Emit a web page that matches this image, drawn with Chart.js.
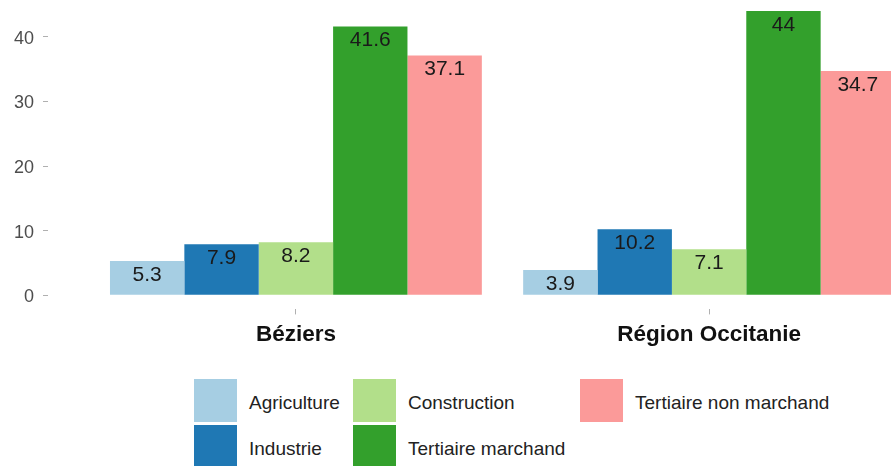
<!DOCTYPE html>
<html>
<head>
<meta charset="utf-8">
<script src="https://cdn.jsdelivr.net/npm/chart.js@4"></script>
<style>
  html, body { margin: 0; padding: 0; background: #fff; overflow: hidden; width: 891px; height: 466px; }
  #wrap { position: absolute; left: 0; top: 0; }
  #legend {
    position: absolute; left: 194px; top: 379px;
    display: grid; grid-auto-flow: column;
    grid-template-rows: 43px 43px; row-gap: 3px;
    grid-template-columns: 159px 227px auto;
    font-family: "Liberation Sans", Arial, sans-serif; font-size: 19px; color: #222;
  }
  .item { display: flex; align-items: center; }
  .box { width: 43px; height: 43px; flex: none; }
  .lbl { margin-left: 12px; padding-top: 5px; white-space: nowrap; }
</style>
</head>
<body>
<div id="wrap"><canvas id="c" width="957" height="360"></canvas></div>
<div id="legend"></div>
<script>
const categories = ["Béziers", "Région Occitanie"];
const series = ["Agriculture", "Industrie", "Construction", "Tertiaire marchand", "Tertiaire non marchand"];
const agriculture = [5.3, 3.9];
const industrie = [7.9, 10.2];
const construction = [8.2, 7.1];
const tertiaireMarchand = [41.6, 44];
const tertiaireNonMarchand = [37.1, 34.7];
const yTicks = [0, 10, 20, 30, 40];
const colors = ["#A6CEE3", "#1F78B4", "#B2DF8A", "#33A02C", "#FB9A99"];

const values = [agriculture, industrie, construction, tertiaireMarchand, tertiaireNonMarchand];
const font = '"Liberation Sans", Arial, sans-serif';

// labels inside the top of each bar
const barLabels = {
  id: "barLabels",
  afterDatasetsDraw(chart) {
    const ctx = chart.ctx;
    ctx.save();
    ctx.font = "21px " + font;
    ctx.fillStyle = "#1a1a1a";
    ctx.textAlign = "center";
    ctx.textBaseline = "middle";
    chart.data.datasets.forEach((ds, i) => {
      chart.getDatasetMeta(i).data.forEach((bar, j) => {
        ctx.fillText(String(ds.data[j].y), bar.x, bar.y + 14);
      });
    });
    ctx.restore();
  }
};

new Chart(document.getElementById("c"), {
  type: "bar",
  data: {
    datasets: series.map((name, i) => ({
      label: name,
      data: values[i].map((v, j) => ({ x: j + 1, y: v })),
      backgroundColor: colors[i],
      borderWidth: 0,
      categoryPercentage: 0.9,
      barPercentage: 1
    }))
  },
  options: {
    responsive: false,
    animation: false,
    layout: { padding: 0 },
    plugins: { legend: { display: false }, tooltip: { enabled: false } },
    scales: {
      x: {
        type: "linear",
        offset: false,
        min: 0.4,
        max: 2.6,
        afterBuildTicks: s => { s.ticks = categories.map((c, i) => ({ value: i + 1 })); },
        afterFit: s => { s.height = 50.6; s.paddingLeft = 0; s.paddingRight = 0; },
        ticks: {
          callback: v => categories[v - 1],
          font: { family: font, size: 22.5, weight: "bold" },
          color: "#111",
          padding: 7,
          maxRotation: 0
        },
        grid: { offset: false, drawOnChartArea: false, drawTicks: true, tickLength: 5, color: "#b0b0b0" },
        border: { display: false }
      },
      y: {
        min: -2.2,
        max: 45.7,
        afterBuildTicks: s => { s.ticks = yTicks.map(v => ({ value: v })); },
        afterFit: s => { s.width = 48; s.paddingTop = 0; s.paddingBottom = 0; },
        ticks: {
          font: { family: font, size: 18 },
          color: "#4d4d4d",
          padding: 9,
          labelOffset: 2
        },
        grid: { drawOnChartArea: false, drawTicks: true, tickLength: 5, color: "#b0b0b0" },
        border: { display: false }
      }
    }
  },
  plugins: [barLabels]
});

// legend laid out by column, as in the reference
const legend = document.getElementById("legend");
series.forEach((name, i) => {
  const item = document.createElement("div");
  item.className = "item";
  const box = document.createElement("div");
  box.className = "box";
  box.style.background = colors[i];
  const lbl = document.createElement("span");
  lbl.className = "lbl";
  lbl.textContent = name;
  item.appendChild(box);
  item.appendChild(lbl);
  legend.appendChild(item);
});
</script>
</body>
</html>
